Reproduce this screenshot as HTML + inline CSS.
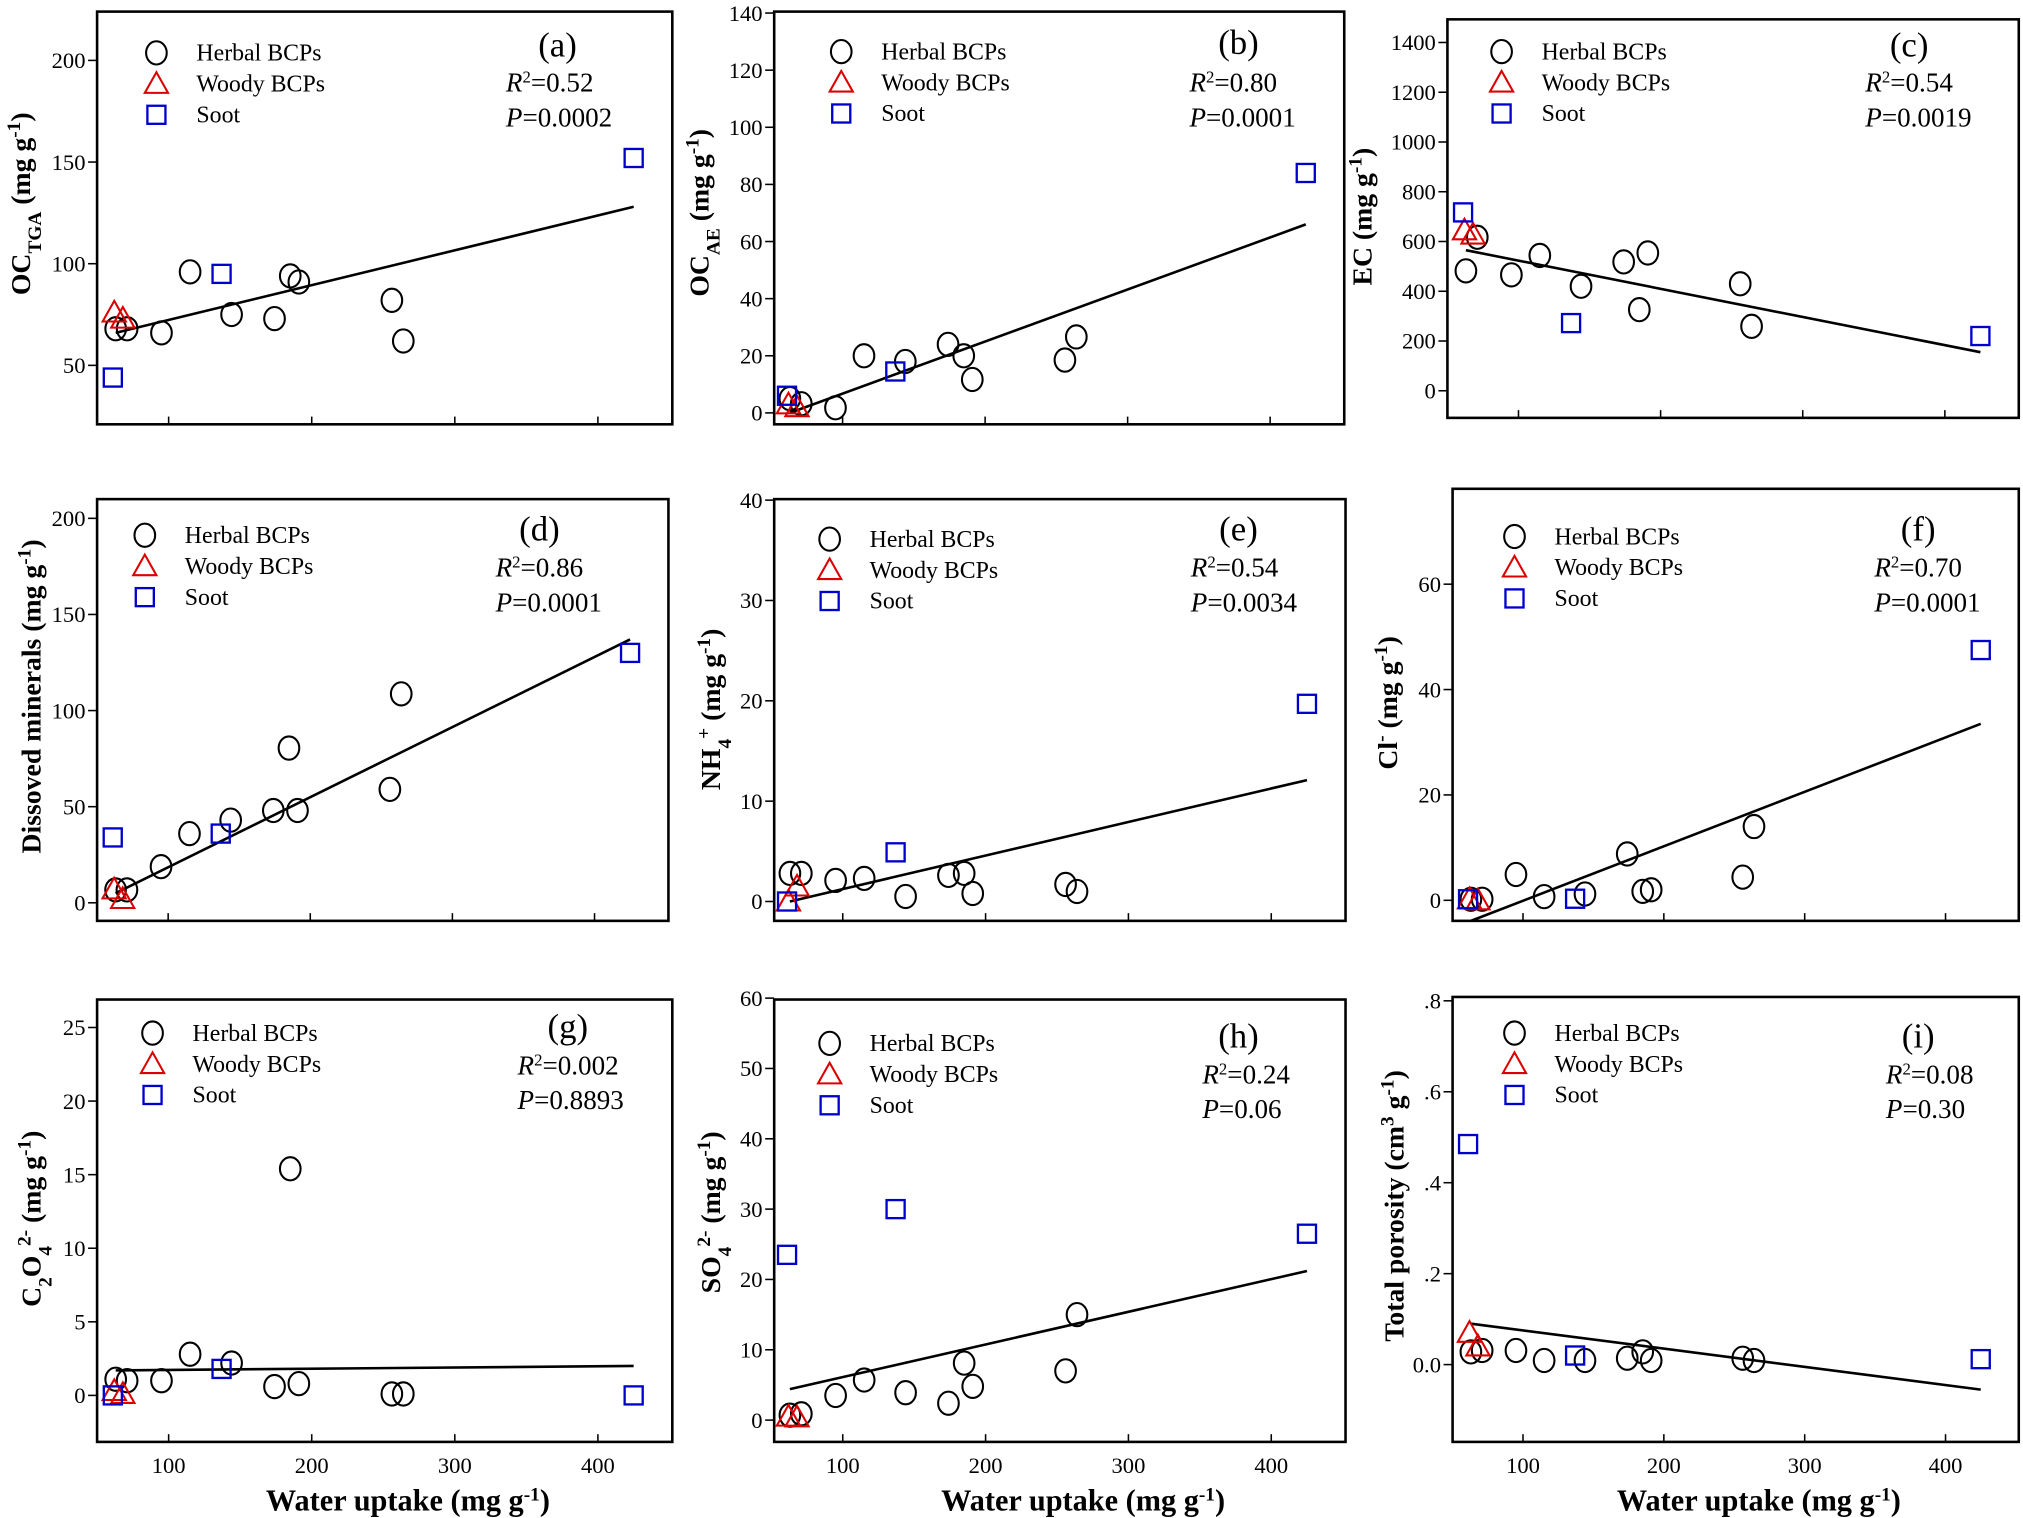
<!DOCTYPE html>
<html><head><meta charset="utf-8"><title>Water uptake correlations</title>
<style>
html,body{margin:0;padding:0;background:#fff;}
svg{display:block;font-family:"Liberation Serif",serif;}
</style></head>
<body>
<svg id="fig" width="2023" height="1518" viewBox="0 0 1568 1177" xmlns="http://www.w3.org/2000/svg"></svg>
<script>
// ---- shared x data (water uptake, mg g-1)
const herbalX = [63,71,95,115,144,174,185,191,256,264];
const woodyX = [62,68];
const sootX = [61,137,425];
const xTicks = [100,200,300,400];
const fitX = [63,425];
// ---- panel (a) OC_TGA
const herbalA = [68,68,66,96,75,73,94,91,82,62];
const woodyA = [76,73];
const sootA = [44,95,152];
const fitA = [66,128];
const ticksA = [50,100,150,200];
// ---- panel (b) OC_AE
const herbalB = [5,3.2,1.8,20,18,24,20,11.7,18.5,26.6];
const woodyB = [3,2];
const sootB = [6,14.5,84];
const fitB = [0,66];
const ticksB = [0,20,40,60,80,100,120,140];
// ---- panel (c) EC
const herbalC = [482,617,466,544,420,518,326,554,430,259];
const woodyC = [645,628];
const sootC = [717,272,220];
const fitC = [565,155];
const ticksC = [0,200,400,600,800,1000,1200,1400];
// ---- panel (d) dissolved minerals
const herbalD = [6.7,6.7,18.8,36,43,48,80.5,48,59,108.7];
const woodyD = [7,2];
const sootD = [34,36,130];
const fitD = [5,137];
const ticksD = [0,50,100,150,200];
// ---- panel (e) NH4+
const herbalE = [2.8,2.8,2.1,2.3,0.5,2.6,2.8,0.8,1.7,1.0];
const woodyE = [0,1.5];
const sootE = [0,4.9,19.7];
const fitE = [0,12.1];
const ticksE = [0,10,20,30,40];
// ---- panel (f) Cl-
const herbalF = [0.2,0.2,4.9,0.7,1.2,8.8,1.7,2.0,4.4,14];
const woodyF = [0.2,0.0];
const sootF = [0.2,0.3,47.5];
const fitF = [-3.9,33.5];
const ticksF = [0,20,40,60];
// ---- panel (g) C2O4 2-
const herbalG = [1.1,1.0,1.0,2.8,2.2,0.6,15.4,0.8,0.1,0.1];
const woodyG = [0.3,0.1];
const sootG = [0,1.8,0];
const fitG = [1.7,2.0];
const ticksG = [0,5,10,15,20,25];
// ---- panel (h) SO4 2-
const herbalH = [0.7,0.9,3.5,5.7,3.9,2.4,8.1,4.8,7.0,15];
const woodyH = [0.5,0.4];
const sootH = [23.5,30,26.5];
const fitH = [4.4,21.2];
const ticksH = [0,10,20,30,40,50,60];
// ---- panel (i) total porosity
const herbalI = [0.028,0.031,0.031,0.009,0.009,0.014,0.028,0.009,0.014,0.009];
const woodyI = [0.07,0.04];
const sootI = [0.485,0.02,0.012];
const fitI = [0.09,-0.055];
const ticksI = [0,0.2,0.4,0.6,0.8];
const tickLabelsI = ["0.0",".2",".4",".6",".8"];

const NS = "http://www.w3.org/2000/svg";
const svg = document.getElementById('fig');
function mk(tag, attrs, parent){
  const e = document.createElementNS(NS, tag);
  for (const k in attrs) e.setAttribute(k, attrs[k]);
  (parent||svg).appendChild(e);
  return e;
}

const panels = [
 {id:'a',box:[75,9,521,329],xd:[50,452],yd:[21,224],h:herbalA,w:woodyA,s:sootA,f:fitA,t:ticksA,
  leg:[121,41],lab:[432,35],rp:[392,64],r2:'0.52',p:'0.0002',
  title:'OC<tspan baseline-shift="sub" font-size="15">TGA</tspan> (mg g<tspan baseline-shift="super" font-size="15">-1</tspan>)',tx:23,ty:158},
 {id:'b',box:[600,9,1042,329],xd:[52,452],yd:[-4,140.5],h:herbalB,w:woodyB,s:sootB,f:fitB,t:ticksB,
  leg:[652,40],lab:[960,33],rp:[922,64],r2:'0.80',p:'0.0001',
  title:'OC<tspan baseline-shift="sub" font-size="15">AE</tspan> (mg g<tspan baseline-shift="super" font-size="15">-1</tspan>)',tx:549,ty:165},
 {id:'c',box:[1122,15,1565,324],xd:[50,452],yd:[-109,1493],h:herbalC,w:woodyC,s:sootC,f:fitC,t:ticksC,
  leg:[1164,40],lab:[1480,35],rp:[1446,64],r2:'0.54',p:'0.0019',
  title:'EC (mg g<tspan baseline-shift="super" font-size="15">-1</tspan>)',tx:1063,ty:168},
 {id:'d',box:[75,387,518,714],xd:[50,452],yd:[-9.4,210],h:herbalD,w:woodyD,s:sootD,f:fitD,t:ticksD,
  leg:[112,415],lab:[418,410],rp:[384,440],r2:'0.86',p:'0.0001',
  title:'Dissoved minerals (mg g<tspan baseline-shift="super" font-size="15">-1</tspan>)',tx:31,ty:540},
 {id:'e',box:[600,387,1043,714],xd:[52,452],yd:[-1.93,40.1],h:herbalE,w:woodyE,s:sootE,f:fitE,t:ticksE,
  leg:[643,418],lab:[960,410],rp:[923,440],r2:'0.54',p:'0.0034',
  title:'NH<tspan baseline-shift="sub" font-size="15">4</tspan><tspan baseline-shift="super" font-size="15">+</tspan> (mg g<tspan baseline-shift="super" font-size="15">-1</tspan>)',tx:558,ty:550},
 {id:'f',box:[1126,379,1565,714],xd:[50,452],yd:[-3.9,78.1],h:herbalF,w:woodyF,s:sootF,f:fitF,t:ticksF,
  leg:[1174,416],lab:[1487,410],rp:[1453,440],r2:'0.70',p:'0.0001',
  title:'Cl<tspan baseline-shift="super" font-size="15">-</tspan> (mg g<tspan baseline-shift="super" font-size="15">-1</tspan>)',tx:1083,ty:545},
 {id:'g',box:[75,775,521,1118],xd:[50,452],yd:[-3.16,26.9],h:herbalG,w:woodyG,s:sootG,f:fitG,t:ticksG,
  leg:[118,801],lab:[440,796],rp:[401,826],r2:'0.002',p:'0.8893',
  title:'C<tspan baseline-shift="sub" font-size="15">2</tspan>O<tspan baseline-shift="sub" font-size="15">4</tspan><tspan baseline-shift="super" font-size="15">2-</tspan> (mg g<tspan baseline-shift="super" font-size="15">-1</tspan>)',tx:31,ty:945},
 {id:'h',box:[600,775,1043,1118],xd:[52,452],yd:[-3.1,59.8],h:herbalH,w:woodyH,s:sootH,f:fitH,t:ticksH,
  leg:[643,809],lab:[960,803],rp:[932,833],r2:'0.24',p:'0.06',
  title:'SO<tspan baseline-shift="sub" font-size="15">4</tspan><tspan baseline-shift="super" font-size="15">2-</tspan> (mg g<tspan baseline-shift="super" font-size="15">-1</tspan>)',tx:558,ty:940},
 {id:'i',box:[1126,773,1565,1118],xd:[50,452],yd:[-0.17,0.8085],h:herbalI,w:woodyI,s:sootI,f:fitI,t:ticksI,tl:tickLabelsI,
  leg:[1174,801],lab:[1487,803],rp:[1462,833],r2:'0.08',p:'0.30',
  title:'Total porosity (cm<tspan baseline-shift="super" font-size="15">3</tspan> g<tspan baseline-shift="super" font-size="15">-1</tspan>)',tx:1088,ty:935}
];

function circleM(g,x,y){ return mk('ellipse',{cx:x,cy:y,rx:8,ry:9,fill:'none',stroke:'#000','stroke-width':1.6},g); }
function triM(g,x,y){ return mk('polygon',{points:`${x},${y-9} ${x-9},${y+7} ${x+9},${y+7}`,fill:'none',stroke:'#d00','stroke-width':1.6},g); }
function sqM(g,x,y){ return mk('rect',{x:x-7,y:y-7,width:14,height:14,fill:'none',stroke:'#00c','stroke-width':1.8},g); }

panels.forEach((P,pi)=>{
  const g = mk('g',{});
  
  
  const [L,T,R,B] = P.box;
  const sx = v => L + (v-P.xd[0])/(P.xd[1]-P.xd[0])*(R-L);
  const sy = v => B - (v-P.yd[0])/(P.yd[1]-P.yd[0])*(B-T);
  const fr = mk('rect',{x:L,y:T,width:R-L,height:B-T,fill:'none',stroke:'#000','stroke-width':2},g);
  
  
  P.t.forEach((v,i)=>{
    const y = sy(v);
    mk('line',{x1:L-7,x2:L,y1:y,y2:y,stroke:'#000','stroke-width':1.2},g);
    const t = mk('text',{x:L-9,y:y+6,'text-anchor':'end','font-size':17.5},g);
    t.textContent = P.tl ? P.tl[i] : String(v);
    
    
  });
  xTicks.forEach(v=>{
    const x = sx(v);
    mk('line',{x1:x,x2:x,y1:B-6,y2:B,stroke:'#000','stroke-width':1.2},g);
    if (pi>=6){
      const t = mk('text',{x:x,y:B+24,'text-anchor':'middle','font-size':17.5},g);
      t.textContent = String(v);
      
      
    }
  });
  const ln = mk('line',{x1:sx(fitX[0]),y1:sy(P.f[0]),x2:sx(fitX[1]),y2:sy(P.f[1]),stroke:'#000','stroke-width':2},g);
  
  
  P.h.forEach((v,i)=>{ const m=circleM(g,sx(herbalX[i]),sy(v));
    
     });
  P.w.forEach((v,i)=>{ const m=triM(g,sx(woodyX[i]),sy(v));
    
     });
  P.s.forEach((v,i)=>{ const m=sqM(g,sx(sootX[i]),sy(v));
    
     });
  const [lx,ly] = P.leg;
  const names = ['Herbal BCPs','Woody BCPs','Soot'];
  const fns = [circleM,triM,sqM];
  names.forEach((n,k)=>{
    const yy = ly + k*24;
    const m = fns[k](g,lx,yy);
    
    
    const t = mk('text',{x:lx+31,y:yy+6,'font-size':18.5},g);
    t.textContent = n;
    
    
  });
  const lb = mk('text',{x:P.lab[0],y:P.lab[1]+9,'text-anchor':'middle','font-size':27},g);
  lb.textContent = '('+P.id+')';
  
  
  const r2 = mk('text',{x:P.rp[0],y:P.rp[1]+7,'font-size':21},g);
  r2.innerHTML = '<tspan font-style="italic">R</tspan><tspan baseline-shift="super" font-size="13">2</tspan>=' + P.r2;
  
  
  const pv = mk('text',{x:P.rp[0],y:P.rp[1]+34,'font-size':21},g);
  pv.innerHTML = '<tspan font-style="italic">P</tspan>=' + P.p;
  
  
  const yt = mk('text',{x:0,y:0,'text-anchor':'middle','font-size':21.5,'font-weight':'bold',transform:`translate(${P.tx},${P.ty}) rotate(-90)`},g);
  yt.innerHTML = P.title;
  
  
  if (pi>=6){
    const xt = mk('text',{x:(L+R)/2+18,y:1171,'text-anchor':'middle','font-size':23.5,'font-weight':'bold'},g);
    xt.innerHTML = 'Water uptake  (mg  g<tspan baseline-shift="super" font-size="15">-1</tspan>)';
    
    
  }
});
</script>
</body></html>
